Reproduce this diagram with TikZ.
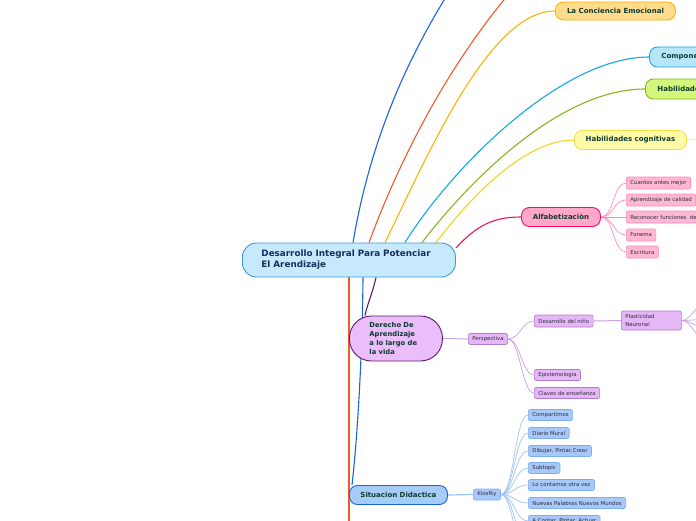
\documentclass[tikz,border=0pt]{standalone}
\usepackage{fontspec}
\setmainfont{DejaVu Sans}
\usetikzlibrary{backgrounds}

\definecolor{txt}{HTML}{0E3B30}
\definecolor{centtxt}{HTML}{172E5C}
\definecolor{leaftxt}{HTML}{2E2E3A}
\definecolor{cblue}{HTML}{1A64D8}
\definecolor{cred}{HTML}{F2582A}
\definecolor{corange}{HTML}{FFB100}
\definecolor{ccyan}{HTML}{12A8E9}
\definecolor{cgreen}{HTML}{86B51C}
\definecolor{cyellow}{HTML}{F2D51E}
\definecolor{cpink}{HTML}{EC0F6B}
\definecolor{cpurple}{HTML}{5D1A6B}
\definecolor{centfill}{HTML}{C6EAFC}
\definecolor{centdraw}{HTML}{3D9AD6}
\definecolor{greenfill}{HTML}{D4F67C}
\definecolor{pinkfill}{HTML}{FFA8CA}
\definecolor{pinkleaf}{HTML}{FFB7D3}
\definecolor{pinkedge}{HTML}{FF8CBB}
\definecolor{lilafill}{HTML}{EBBDFA}
\definecolor{lilaleaf}{HTML}{E6B7F7}
\definecolor{lilaedge}{HTML}{B57BCB}
\definecolor{lilaline}{HTML}{CBA3DB}
\definecolor{bluefill}{HTML}{A6CCF8}
\definecolor{blueleaf}{HTML}{A8C8FA}
\definecolor{blueedge}{HTML}{7DAEF3}
\definecolor{blueline}{HTML}{9EC3F5}

\tikzset{
  topic/.style={draw, line width=0.9pt, rounded corners=8pt, anchor=west,
    font=\bfseries\fontsize{7}{8.7}\selectfont, text=txt,
    minimum height=19pt, inner xsep=6pt, inner ysep=0pt},
  leaf/.style={draw, line width=0.7pt, rounded corners=2pt, anchor=west,
    font=\fontsize{5.4}{6.5}\selectfont, text=leaftxt,
    minimum height=12pt, inner xsep=4pt, inner ysep=0pt},
  branch/.style={line width=1.1pt},
  twig/.style={line width=0.7pt},
}

\begin{document}
\begin{tikzpicture}[x=1pt,y=-1pt]
\useasboundingbox (0,0) rectangle (696,520);
\clip (0,0) rectangle (696,520);

\node[topic, rounded corners=14pt, fill=centfill, draw=centdraw,
  minimum height=34pt, inner xsep=19pt, text width=175pt, align=left,
  font=\bfseries\fontsize{8.8}{11}\selectfont, text=centtxt]
  (central) at (242,260) {Desarrollo Integral Para Potenciar\\El Arendizaje};

\node[topic, fill=corange!45!white, draw=corange, minimum width=120pt, minimum height=18pt] (conc) at (555,11) {La Conciencia Emocional};
\node[topic, fill=ccyan!30!white, draw=ccyan, minimum height=20pt, inner xsep=12pt] (comp) at (649,57) {Componentes};
\node[topic, fill=greenfill, draw=cgreen, minimum height=20pt, inner xsep=12pt] (habil) at (645,89) {Habilidades};
\node[topic, fill=yellow!35!white, draw=cyellow!80!white, minimum width=112pt] (cogn) at (574,140) {Habilidades cognitivas};

\node[topic, fill=pinkfill, draw=cpink, minimum width=79pt] (alf) at (521,217) {Alfabetizaciòn};
\node[leaf, fill=pinkleaf, draw=pinkedge] (alf1) at (626,183) {Cuantos antes mejor};
\node[leaf, fill=pinkleaf, draw=pinkedge] (alf2) at (626,200) {Aprendizaje de calidad};
\node[leaf, fill=pinkleaf, draw=pinkedge] (alf3) at (626,217) {Reconocer funciones \ de};
\node[leaf, fill=pinkleaf, draw=pinkedge] (alf4) at (626,235) {Fonema};
\node[leaf, fill=pinkleaf, draw=pinkedge] (alf5) at (626,252) {Escritura};

\node[topic, rounded corners=22pt, fill=lilafill, draw=cpurple,
  minimum height=45pt, inner xsep=20pt, text width=53pt, align=left,
  font=\bfseries\fontsize{6.8}{8.7}\selectfont]
  (derecho) at (349,338.5) {Derecho De\\Aprendizaje\\a lo largo de\\la vida};
\node[leaf, fill=lilaleaf, draw=lilaedge, minimum height=11pt] (persp) at (468,339) {Perspectiva};
\node[leaf, fill=lilaleaf, draw=lilaedge] (desn) at (534,321) {Desarrollo del niño};
\node[leaf, fill=lilaleaf, draw=lilaedge, minimum width=60pt, minimum height=19pt,
  text width=52pt, align=left, font=\fontsize{5.4}{7.5}\selectfont] (plast) at (621,320.5) {Plasticidad\\Neuronal};
\node[leaf, fill=lilaleaf, draw=lilaedge, minimum height=11pt] (epis) at (534,375) {Epistemologia};
\node[leaf, fill=lilaleaf, draw=lilaedge, minimum height=11pt] (claves) at (534,393) {Claves de enseñanza};

\node[topic, fill=bluefill, draw=cblue, minimum width=98pt] (sit) at (349,495) {Situacion Didactica};
\node[leaf, fill=blueleaf, draw=blueedge, minimum height=11pt] (kios) at (473,494.5) {Kiosfky};
\node[leaf, fill=blueleaf, draw=blueedge, minimum height=11pt] (k1) at (528,415) {Compartimos};
\node[leaf, fill=blueleaf, draw=blueedge, minimum height=11pt] (k2) at (528,433) {Diario Mural};
\node[leaf, fill=blueleaf, draw=blueedge, minimum height=11pt] (k3) at (528,451) {Dibujar, Pintar,Crear};
\node[leaf, fill=blueleaf, draw=blueedge, minimum height=11pt] (k4) at (528,468) {Subtopic};
\node[leaf, fill=blueleaf, draw=blueedge, minimum height=11pt] (k5) at (528,485) {Lo contamos otra vez};
\node[leaf, fill=blueleaf, draw=blueedge, minimum height=11pt] (k6) at (528,503) {Nuevas Palabras Nuevos Mundos};
\node[leaf, fill=blueleaf, draw=blueedge, minimum height=11pt] (k7) at (528,521) {A Contar, Pintar, Actuar};

\coordinate (upA) at (470,-40);
\coordinate (upB) at (530,-30);
\coordinate (downA) at (349,560);
\coordinate (cg1) at (712,136);
\coordinate (pl1) at (720,285);
\coordinate (pl2) at (720,318);
\coordinate (pl3) at (720,336);
\coordinate (pl4) at (720,360);
\coordinate (k8) at (528,540);
\coordinate (k9) at (528,560);

\begin{pgfonlayer}{background}
\clip (0,0) rectangle (696,520);
\draw[branch, cblue] ([xshift=111]central.north west) .. controls (372,130) and (415,40) .. (upA);
\draw[branch, cred] ([xshift=127]central.north west) .. controls (405,145) and (460,45) .. (upB);
\draw[branch, corange] ([xshift=143]central.north west) .. controls (430,150) and (490,11) .. (conc.west);
\draw[branch, ccyan] ([xshift=163]central.north west) .. controls (450,170) and (560,57) .. (comp.west);
\draw[branch, cgreen] ([xshift=180]central.north west) .. controls (470,180) and (560,89) .. (habil.west);
\draw[branch, cyellow] ([xshift=194]central.north west) .. controls (480,185) and (530,140) .. (cogn.west);
\draw[twig, cyellow!45!white] (cogn.east) .. controls +(8,0) and +(-8,0) .. (cg1);
\draw[branch, cpink] ([yshift=12]central.east) .. controls (478,224) and (495,217) .. (alf.west);
\foreach \c in {alf1,alf2,alf3,alf4,alf5}
  \draw[twig, pinkedge] (alf.east) .. controls +(13,0) and +(-13,0) .. (\c.west);

\draw[branch, cred] ([xshift=107]central.south west) -- (downA);
\draw[branch, cblue] ([xshift=121]central.south west) .. controls (362,380) and (355,460) .. ([xshift=3]sit.north west);
\draw[branch, cpurple] ([xshift=134]central.south west) .. controls (372,295) and (367,305) .. ([xshift=16]derecho.north west);

\draw[twig, lilaline, line width=1pt] (derecho.east) -- (persp.west);
\foreach \c in {desn,epis,claves}
  \draw[twig, lilaline] (persp.east) .. controls +(12,0) and +(-12,0) .. (\c.west);
\draw[twig, lilaline, line width=1pt] (desn.east) -- (plast.west);
\foreach \c in {pl1,pl2,pl3,pl4}
  \draw[twig, lilaline] (plast.east) .. controls +(12,0) and +(-12,0) .. (\c);

\draw[twig, blueline, line width=1.2pt] (sit.east) -- (kios.west);
\foreach \c in {k1,k2,k3,k4,k5,k6,k7}
  \draw[twig, blueline] (kios.east) .. controls +(13,0) and +(-13,0) .. (\c.west);
\foreach \c in {k8,k9}
  \draw[twig, blueline] (kios.east) .. controls +(13,0) and +(-13,0) .. (\c);
\end{pgfonlayer}

\end{tikzpicture}
\end{document}
